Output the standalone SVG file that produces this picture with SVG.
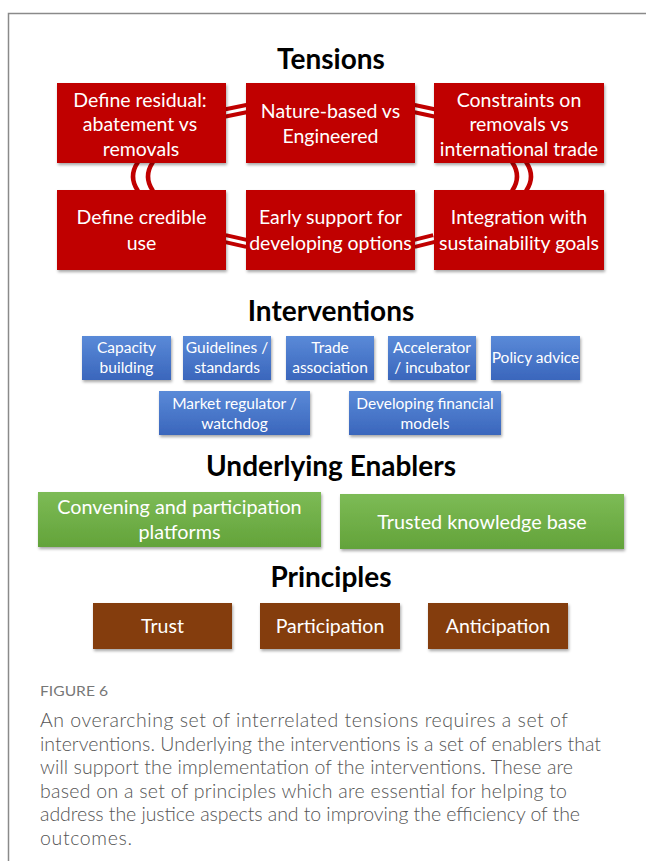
<svg xmlns="http://www.w3.org/2000/svg" width="646" height="861" viewBox="0 0 646 861">
<style>
.title{font-family:Lato,"Liberation Sans",sans-serif;font-weight:bold;font-size:28px;fill:#000;text-anchor:middle}
.bt{font-family:Lato,"Liberation Sans",sans-serif;fill:#fff;text-anchor:middle}
.red{fill:#C00000}
.brown{fill:#843C0C}
.r{font-size:19.5px}
.b{font-size:15.5px}
.g{font-size:19.8px}
.p{font-size:19.5px}
.cap{font-family:Lato,"Noto Sans","Liberation Sans",sans-serif;font-weight:300;fill:#555;font-size:19.5px}
.fig{font-family:Lato,"Noto Sans","Liberation Sans",sans-serif;fill:#777;font-size:14px}
.conR{stroke:#C00000;stroke-width:11;fill:none}
.conW{stroke:#fff;stroke-width:3;fill:none}
.arc{stroke:#C00000;stroke-width:4.5;fill:none}
</style>
<defs>
<filter id="sh" x="-10%" y="-10%" width="130%" height="140%">
<feDropShadow dx="1" dy="2" stdDeviation="1.5" flood-color="#000" flood-opacity="0.35"/>
</filter>
<linearGradient id="blue" x1="0" y1="0" x2="0" y2="1">
<stop offset="0" stop-color="#5A8AD8"/>
<stop offset="1" stop-color="#3A66BC"/>
</linearGradient>
<linearGradient id="green" x1="0" y1="0" x2="0" y2="1">
<stop offset="0" stop-color="#7DBB56"/>
<stop offset="1" stop-color="#63A33A"/>
</linearGradient>
</defs>
<rect width="646" height="861" fill="#fff"/>
<path d="M8.5,861 V13.5 H646" fill="none" stroke="#8a8a8a" stroke-width="1.5"/>

<text class="title" x="331" y="69">Tensions</text>
<text class="title" x="331" y="321">Interventions</text>
<text class="title" x="331" y="476">Underlying Enablers</text>
<text class="title" x="331" y="587">Principles</text>

<g id="connectors">
<path class="conR" d="M225,113 L247,108.5"/>
<path class="conW" d="M225,113 L247,108.5"/>
<path class="conR" d="M414,108.5 L435,113"/>
<path class="conW" d="M414,108.5 L435,113"/>
<path class="conR" d="M225,238.5 L247,243.5"/>
<path class="conW" d="M225,238.5 L247,243.5"/>
<path class="conR" d="M414,243.5 L434,238.5"/>
<path class="conW" d="M414,243.5 L434,238.5"/>
<path class="arc" d="M138,162 Q128,176.5 138,191"/>
<path class="arc" d="M153,162 Q143,176.5 153,191"/>
<path class="arc" d="M512,162 Q522,176.5 512,191"/>
<path class="arc" d="M526,162 Q536,176.5 526,191"/>
</g>

<g id="t1"><rect class="red" x="57" y="83" width="169" height="80" filter="url(#sh)"/>
<text class="bt r" x="140" y="106.5">Define residual:</text><text class="bt r" x="140" y="131">abatement vs</text><text class="bt r" x="141" y="155.5">removals</text></g>
<g id="t2"><rect class="red" x="246" y="83" width="169" height="80" filter="url(#sh)"/>
<text class="bt r" x="330.5" y="117.5">Nature-based vs</text><text class="bt r" x="330.5" y="142.5">Engineered</text></g>
<g id="t3"><rect class="red" x="434" y="83" width="170" height="80" filter="url(#sh)"/>
<text class="bt r" x="519" y="106.5">Constraints on</text><text class="bt r" x="519" y="131">removals vs</text><text class="bt r" x="519" y="155.5">international trade</text></g>
<g id="t4"><rect class="red" x="57" y="190" width="169" height="80" filter="url(#sh)"/>
<text class="bt r" x="141.5" y="223.5">Define credible</text><text class="bt r" x="141.5" y="249.5">use</text></g>
<g id="t5"><rect class="red" x="246" y="190" width="169" height="80" filter="url(#sh)"/>
<text class="bt r" x="330.5" y="223.5">Early support for</text><text class="bt r" x="330.5" y="249.5">developing options</text></g>
<g id="t6"><rect class="red" x="434" y="190" width="170" height="80" filter="url(#sh)"/>
<text class="bt r" x="519" y="223.5">Integration with</text><text class="bt r" x="519" y="249.5">sustainability goals</text></g>

<g id="i1"><rect x="82" y="336" width="89" height="44" fill="url(#blue)" filter="url(#sh)"/>
<text class="bt b" x="126.5" y="353">Capacity</text><text class="bt b" x="126.5" y="373">building</text></g>
<g id="i2"><rect x="183" y="336" width="88" height="44" fill="url(#blue)" filter="url(#sh)"/>
<text class="bt b" x="227" y="353">Guidelines /</text><text class="bt b" x="227" y="373">standards</text></g>
<g id="i3"><rect x="286" y="336" width="88" height="44" fill="url(#blue)" filter="url(#sh)"/>
<text class="bt b" x="330" y="353">Trade</text><text class="bt b" x="330" y="373">association</text></g>
<g id="i4"><rect x="388" y="336" width="88" height="44" fill="url(#blue)" filter="url(#sh)"/>
<text class="bt b" x="432" y="353">Accelerator</text><text class="bt b" x="432" y="373">/ incubator</text></g>
<g id="i5"><rect x="491" y="336" width="89" height="44" fill="url(#blue)" filter="url(#sh)"/>
<text class="bt b" x="535.5" y="363">Policy advice</text></g>
<g id="i6"><rect x="159" y="391" width="151" height="44" fill="url(#blue)" filter="url(#sh)"/>
<text class="bt b" x="234.5" y="409">Market regulator /</text><text class="bt b" x="234.5" y="429">watchdog</text></g>
<g id="i7"><rect x="349" y="391" width="152" height="44" fill="url(#blue)" filter="url(#sh)"/>
<text class="bt b" x="425" y="409">Developing financial</text><text class="bt b" x="425" y="429">models</text></g>

<g id="e1"><rect x="38" y="492" width="283" height="55" fill="url(#green)" filter="url(#sh)"/>
<text class="bt g" x="179.5" y="513.5">Convening and participation</text><text class="bt g" x="179.5" y="538.5">platforms</text></g>
<g id="e2"><rect x="340" y="494" width="284" height="55" fill="url(#green)" filter="url(#sh)"/>
<text class="bt g" x="482" y="528.5">Trusted knowledge base</text></g>

<g id="p1"><rect class="brown" x="93" y="603" width="139" height="46" filter="url(#sh)"/>
<text class="bt p" x="162.5" y="633">Trust</text></g>
<g id="p2"><rect class="brown" x="260" y="603" width="140" height="46" filter="url(#sh)"/>
<text class="bt p" x="330" y="633">Participation</text></g>
<g id="p3"><rect class="brown" x="428" y="603" width="140" height="46" filter="url(#sh)"/>
<text class="bt p" x="498" y="633">Anticipation</text></g>

<text class="fig" x="40" y="696" textLength="68" lengthAdjust="spacingAndGlyphs">FIGURE 6</text>
<text class="cap" x="40" y="727" textLength="528" lengthAdjust="spacing">An overarching set of interrelated tensions requires a set of</text>
<text class="cap" x="40" y="751" textLength="561" lengthAdjust="spacing">interventions. Underlying the interventions is a set of enablers that</text>
<text class="cap" x="40" y="774" textLength="533" lengthAdjust="spacing">will support the implementation of the interventions. These are</text>
<text class="cap" x="40" y="798" textLength="527" lengthAdjust="spacing">based on a set of principles which are essential for helping to</text>
<text class="cap" x="40" y="821" textLength="540" lengthAdjust="spacing">address the justice aspects and to improving the efficiency of the</text>
<text class="cap" x="40" y="845" textLength="92" lengthAdjust="spacing">outcomes.</text>
</svg>
